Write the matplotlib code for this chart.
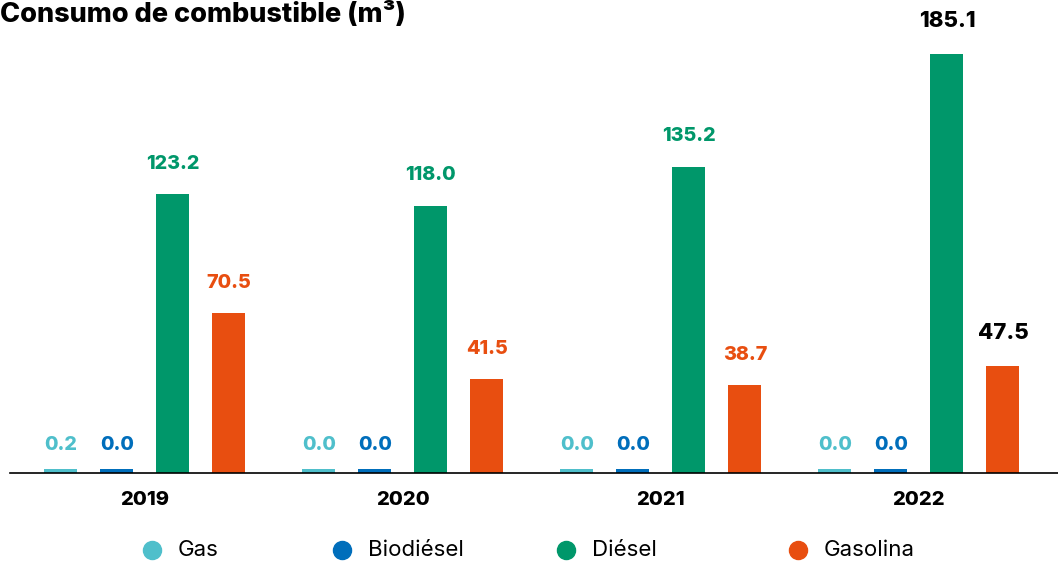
import numpy as np
import matplotlib; matplotlib.use('Agg'); import matplotlib.pyplot as plt
from matplotlib.lines import Line2D

plt.rcParams['font.family'] = ['Inter', 'DejaVu Sans']

years = ['2019', '2020', '2021', '2022']
series = ['Gas', 'Biodiésel', 'Diésel', 'Gasolina']
gas = [0.2, 0.0, 0.0, 0.0]
biodiesel = [0.0, 0.0, 0.0, 0.0]
diesel = [123.2, 118.0, 135.2, 185.1]
gasolina = [70.5, 41.5, 38.7, 47.5]
colors = ['#4FBFCB', '#006EBB', '#00976A', '#E84E10']

fig = plt.figure(figsize=(10.58, 5.62), dpi=100)
ax = fig.add_axes([10/1058, 89/562, 1 - 10/1058, 473/562])

x = np.arange(len(years))
offs = [-0.3256, -0.1085, 0.1085, 0.3256]
w = 0.128
stub = 1.7  # tiny visible stub for near-zero bars
for vals, off, c in zip([gas, biodiesel, diesel, gasolina], offs, colors):
    v = np.array(vals)
    ax.bar(x + off, np.maximum(v, stub), width=w, color=c)
    for i, val in enumerate(v):
        last = i == len(years) - 1 and val > 1
        dy = 10.5 if val < 1 else (14.5 if last else 13.5)
        ax.text(x[i] + off, max(val, stub) + dy, f'{val:.1f}', ha='center', va='center',
                color='black' if last else c, fontsize=16 if last else 14.2, weight='heavy')

ax.set_xlim(-0.523, 3.539)
ax.set_ylim(0, 209)
for s in ['top', 'right', 'left']: ax.spines[s].set_visible(False)
ax.spines['bottom'].set_linewidth(1.2)
ax.set_yticks([])
ax.set_xticks(x); ax.set_xticklabels(years, fontsize=14.5, weight='heavy')
ax.tick_params(axis='x', length=0, pad=13)

fig.text(0.0, 1 - 22/562, 'Consumo de combustible (m³)', ha='left', va='baseline', fontsize=19.5, weight='heavy')

# legend
mx = [152, 342, 566, 798]
for px, lab, c in zip(mx, series, colors):
    fig.add_artist(Line2D([px/1058], [1 - 550/562], marker='o', ms=13, color=c, lw=0,
                          transform=fig.transFigure))
    fig.text((px + 26)/1058, 1 - 550/562, lab, ha='left', va='center', fontsize=16)

fig.savefig('out.png', dpi=100)
